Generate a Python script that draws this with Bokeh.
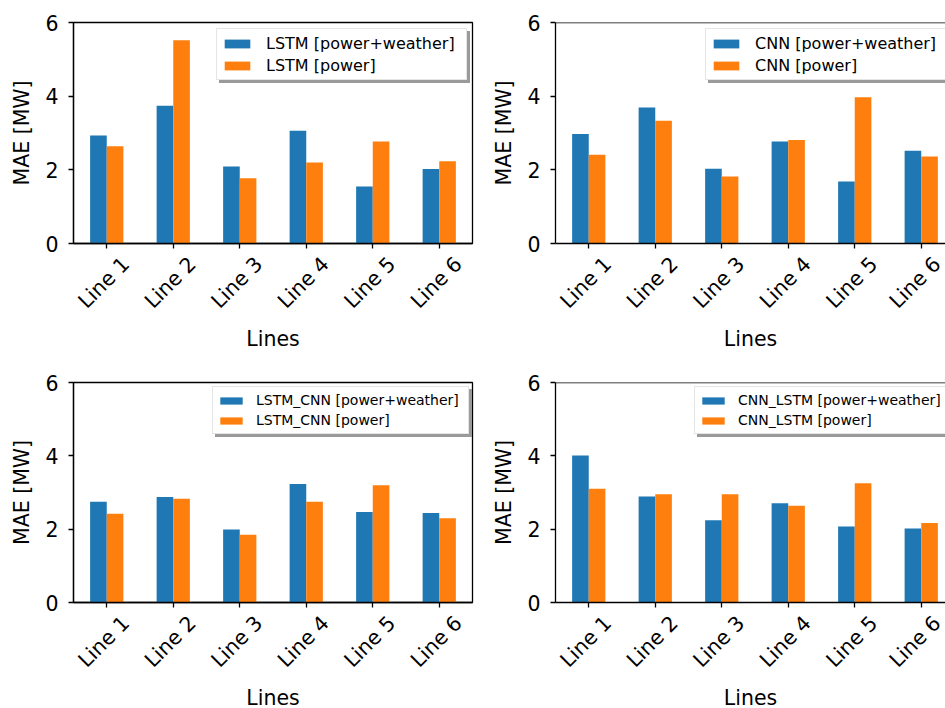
from math import pi
from bokeh.plotting import figure
from bokeh.layouts import gridplot
from bokeh.models import (Range1d, FixedTicker, Legend, LegendItem, ColumnDataSource,
                          LinearAxis, Span)
from bokeh.transform import dodge
from bokeh.embed import file_html
from bokeh.resources import INLINE

categories = ["Line 1", "Line 2", "Line 3", "Line 4", "Line 5", "Line 6"]
y_ticks = [0, 2, 4, 6]

lstm_pw = [2.93, 3.74, 2.09, 3.06, 1.55, 2.02]
lstm_p = [2.64, 5.52, 1.77, 2.20, 2.77, 2.23]
cnn_pw = [2.97, 3.69, 2.03, 2.77, 1.68, 2.52]
cnn_p = [2.41, 3.33, 1.82, 2.81, 3.97, 2.36]
lstmcnn_pw = [2.75, 2.88, 1.99, 3.23, 2.47, 2.44]
lstmcnn_p = [2.42, 2.83, 1.85, 2.75, 3.20, 2.30]
cnnlstm_pw = [4.01, 2.89, 2.24, 2.71, 2.07, 2.02]
cnnlstm_p = [3.10, 2.95, 2.95, 2.64, 3.25, 2.17]

BLUE = "#1f77b4"
ORANGE = "#ff7f0e"
FONT = "DejaVu Sans"
TICK_FS = "20.5px"
PX_PER_UNIT = 66.5
LABEL_SHIFT = 19 / PX_PER_UNIT


def make_panel(model, pw, p_only, frame_w, x_end, top_b, frame_h, bottom_b,
               leg, right_cut):
    fig = figure(frame_width=frame_w, frame_height=frame_h,
                 x_range=Range1d(-0.5, x_end), y_range=Range1d(0, 6),
                 output_backend="svg", toolbar_location=None,
                 min_border_left=73, min_border_right=0 if right_cut else 10,
                 min_border_top=top_b, min_border_bottom=bottom_b,
                 x_axis_type=None)
    fig.grid.visible = False
    fig.background_fill_color = "white"
    fig.border_fill_color = "white"
    if right_cut:
        fig.outline_line_color = None
        fig.add_layout(Span(location=6, dimension="width", line_color="black", line_width=1.3))
    else:
        fig.outline_line_color = "black"
        fig.outline_line_width = 1.3

    src = ColumnDataSource(dict(x=list(range(len(categories))), pw=pw, p=p_only))
    r1 = fig.vbar(x=dodge("x", -0.125, range=fig.x_range), top="pw", width=0.25,
                  source=src, fill_color=BLUE, line_color=None)
    r2 = fig.vbar(x=dodge("x", 0.125, range=fig.x_range), top="p", width=0.25,
                  source=src, fill_color=ORANGE, line_color=None)

    # x axis: tick marks only
    ax1 = LinearAxis(ticker=FixedTicker(ticks=list(range(len(categories)))),
                     major_label_overrides={i: "" for i in range(len(categories))},
                     major_tick_out=5, major_tick_in=0, minor_tick_out=0, minor_tick_in=0,
                     axis_line_width=1.3, major_tick_line_width=1.3,
                     major_label_standoff=0)
    fig.add_layout(ax1, "below")
    # label axis, shifted so that rotated labels are centred on the ticks
    fig.extra_x_ranges = {"lab": Range1d(-0.5 - LABEL_SHIFT, x_end - LABEL_SHIFT)}
    ax2 = LinearAxis(x_range_name="lab",
                     ticker=FixedTicker(ticks=list(range(len(categories)))),
                     major_label_overrides={i: c for i, c in enumerate(categories)},
                     major_tick_out=0, major_tick_in=0, minor_tick_out=0, minor_tick_in=0,
                     axis_line_color=None, major_label_orientation=pi / 4,
                     major_label_standoff=12,
                     major_label_text_font=FONT, major_label_text_font_size=TICK_FS,
                     major_label_text_color="black",
                     axis_label="Lines", axis_label_text_font=FONT,
                     axis_label_text_font_size=TICK_FS, axis_label_text_font_style="normal",
                     axis_label_text_color="black", axis_label_standoff=2)
    fig.add_layout(ax2, "below")

    ya = fig.yaxis[0]
    ya.ticker = FixedTicker(ticks=y_ticks)
    ya.minor_tick_line_color = None
    ya.major_tick_out = 5
    ya.major_tick_in = 0
    ya.axis_line_width = 1.3
    ya.major_tick_line_width = 1.3
    ya.major_label_text_font = FONT
    ya.major_label_text_font_size = TICK_FS
    ya.major_label_text_color = "black"
    ya.major_label_standoff = 10
    ya.axis_label = "MAE [MW]"
    ya.axis_label_text_font = FONT
    ya.axis_label_text_font_size = TICK_FS
    ya.axis_label_text_font_style = "normal"
    ya.axis_label_text_color = "black"
    ya.axis_label_standoff = 8

    fs, gw, gh, std, lw, lh, loc = leg
    items = [LegendItem(label=model + " [power+weather]", renderers=[r1]),
             LegendItem(label=model + " [power]", renderers=[r2])]
    blank = [LegendItem(label=" ", renderers=[r1]),
             LegendItem(label=" ", renderers=[r2])]
    common = dict(label_text_font=FONT, label_text_font_size=fs,
                  glyph_width=gw, glyph_height=gh, label_standoff=std,
                  padding=4, spacing=2, label_height=lh, label_width=lw, margin=0)
    sx, sy = loc
    shadow = Legend(items=blank, location=(sx + 3, sy - 3),
                    background_fill_color="#9a9a9a", background_fill_alpha=1.0,
                    border_line_color="#9a9a9a", **common)
    legend = Legend(items=items, location=(sx, sy),
                    background_fill_color="white", background_fill_alpha=1.0,
                    border_line_color="#cccccc", border_line_width=1,
                    label_text_color="black", **common)
    fig.add_layout(shadow)
    fig.add_layout(legend)
    return fig


TOP_FH = 221
BOT_FH = 220
RIGHT_FW = 390
RIGHT_END = -0.5 + RIGHT_FW / PX_PER_UNIT
tl = make_panel("LSTM", lstm_pw, lstm_p, 399, 5.5, 22, TOP_FH, 119,
                ("16px", 32, 11, 13, 196, 20, (143, 163)), False)
tr = make_panel("CNN", cnn_pw, cnn_p, RIGHT_FW, RIGHT_END, 22, TOP_FH, 119,
                ("16px", 32, 11, 13, 189, 20, (150, 163)), True)
bl = make_panel("LSTM_CNN", lstmcnn_pw, lstmcnn_p, 399, 5.5, 20, BOT_FH, 104,
                ("14px", 28, 9, 11, 208, 18, (139, 168)), False)
br = make_panel("CNN_LSTM", cnnlstm_pw, cnnlstm_p, RIGHT_FW, RIGHT_END, 20, BOT_FH, 104,
                ("14px", 28, 9, 11, 208, 18, (139, 168)), True)

grid = gridplot([[tl, tr], [bl, br]], toolbar_location=None)
open("out.html", "w").write(file_html(grid, INLINE))
